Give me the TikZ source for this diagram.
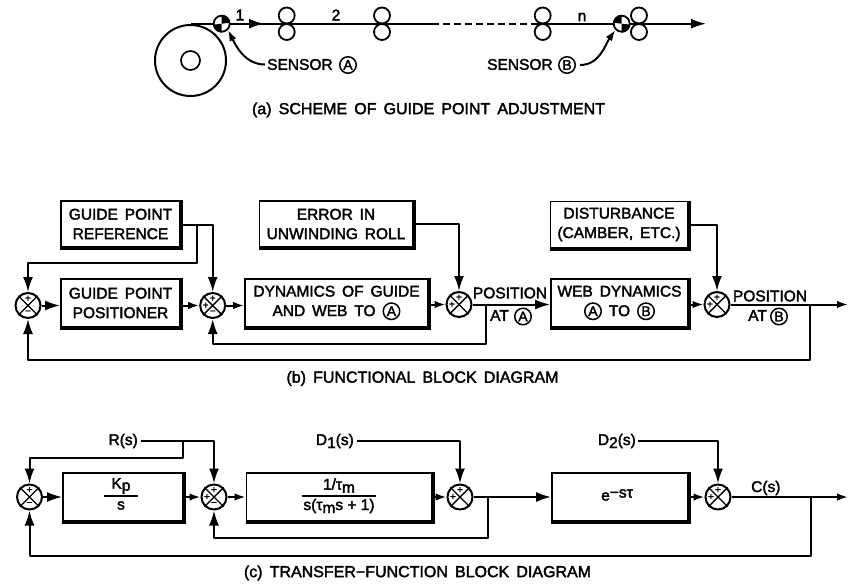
\documentclass[tikz,border=0pt]{standalone}
\usepackage{fontspec}
\setmainfont[FakeBold=2.2]{Liberation Sans}
\newfontfamily\capfont[FakeBold=2.2,WordSpace=1.6]{Liberation Sans}
\usetikzlibrary{arrows.meta,calc}
\tikzset{
  x=1pt,y=-1pt,
  ln/.style={line width=2pt,line join=round},
  arr/.style={ln,-{Latex[length=15pt,width=10pt]}},
  sarr/.style={ln,-{Latex[length=11pt,width=7.5pt]}},
  lab/.style={font=\fontsize{15.5}{17}\selectfont,inner sep=0pt,align=center},
  captext/.style={font=\capfont\fontsize{16}{17}\selectfont,inner sep=0pt},
  blk/.style={draw,line width=1.8pt,inner sep=0pt,align=center,font=\capfont\fontsize{15.5}{19.5}\selectfont,
     append after command={\pgfextra{\draw[line width=3pt] ($(\tikzlastnode.south west)+(0,0.6)$) -- ($(\tikzlastnode.south east)+(0.6,0.6)$) -- ($(\tikzlastnode.north east)+(0.6,0)$);}}},
  sumj/.style={draw,circle,line width=2pt,minimum size=25pt,inner sep=0pt,fill=white},
  sgn/.style={font=\fontsize{10}{10}\selectfont,inner sep=0pt},
  ring/.style={draw,circle,line width=1.5pt,minimum size=16.5pt,inner sep=0pt,font=\fontsize{14}{14}\selectfont},
  roller/.style={draw,circle,line width=1.8pt,minimum size=16pt,inner sep=0pt},
  sensorj/.style={draw,circle,line width=1.8pt,minimum size=16pt,inner sep=0pt,fill=white},
}
\newcommand{\sumx}[4]{% name, x, y, extra signs
  \node[sumj] (#1) at (#2,#3) {};
  \draw[line width=1.4pt] (#1.north west) -- (#1.south east) (#1.north east) -- (#1.south west);
  \node[sgn] at ($(#1)+(0,-7)$) {+};
  #4
}
\newcommand{\Ra}{\tikz[baseline=(r.base)]\node[ring] (r) {A};}
\newcommand{\Rb}{\tikz[baseline=(r.base)]\node[ring] (r) {B};}
\begin{document}
\begin{tikzpicture}
\useasboundingbox (0,0) rectangle (848,584);
% ---------- (a)
\node[draw,circle,line width=2pt,minimum size=71pt,inner sep=0pt] (roll) at (190.5,60.5) {};
\node[draw,circle,line width=1.7pt,minimum size=19pt,inner sep=0pt] (hub) at (190.5,60.5) {};
\coordinate (webstart) at (190.5,23.7);
\coordinate (dash1) at (432,23.7);
\coordinate (dash2) at (535,23.7);
\coordinate (webend) at (706,23.7);
\node[roller] (r1a) at (286.7,15.5) {}; \node[roller] (r1b) at (286.7,32) {};
\node[roller] (r2a) at (382,15.5) {};   \node[roller] (r2b) at (382,32) {};
\node[roller] (r3a) at (542.7,15.5) {}; \node[roller] (r3b) at (542.7,32) {};
\node[roller] (r4a) at (639,15.5) {};   \node[roller] (r4b) at (639,32) {};
\draw[ln] (webstart) -- (dash1);
\draw[ln,dash pattern=on 7pt off 4pt] (dash1) -- (dash2);
\draw[arr] (dash2) -- (webend);
\coordinate (a1) at (248,23.7); \coordinate (a2) at (264,23.7);
\draw[arr] (a1) -- (a2);
\node[sensorj] (sa) at (221.7,23.7) {};
\fill (sa.center) -- (sa.north) arc[start angle=90,end angle=0,radius=8pt] -- cycle;
\fill (sa.center) -- (sa.south) arc[start angle=270,end angle=180,radius=8pt] -- cycle;
\node[sensorj] (sb) at (621.7,23.7) {};
\fill (sb.center) -- (sb.north) arc[start angle=90,end angle=180,radius=8pt] -- cycle;
\fill (sb.center) -- (sb.south) arc[start angle=-90,end angle=0,radius=8pt] -- cycle;
\node[lab] at (240,15) {1};
\node[lab] at (336,15) {2};
\node[lab] at (582,17) {n};
\node[lab,anchor=west] (lsa) at (267,64.5) {SENSOR};
\node[ring] (ca) at (348,65) {A};
\node[lab,anchor=west] (lsb) at (487,64.5) {SENSOR};
\node[ring] (cb) at (567,65) {B};
\draw[sarr] ($(lsa.west)+(-2,0)$) .. controls +(-20,0) and +(8,16) .. (sa.south east);
\draw[sarr] ($(cb)+(13,0)$) .. controls +(20,0) and +(-10,14) .. (sb.south west);
\node[captext] at (428.5,110) {(a) SCHEME OF GUIDE POINT ADJUSTMENT};
% ---------- (b)
\node[blk,minimum width=119pt,minimum height=46pt] (ref) at (120.5,224) {GUIDE POINT\\REFERENCE};
\node[blk,minimum width=153pt,minimum height=46pt] (err) at (336,224) {ERROR IN\\UNWINDING ROLL};
\node[blk,minimum width=137pt,minimum height=46pt] (dist) at (619,224.5) {DISTURBANCE\\(CAMBER, ETC.)};
\node[blk,minimum width=119pt,minimum height=48pt] (pos) at (120.5,303) {GUIDE POINT\\POSITIONER};
\node[blk,minimum width=183pt,minimum height=48pt] (dyn) at (336.5,303) {DYNAMICS OF GUIDE\\AND WEB TO \Ra};
\node[blk,minimum width=137pt,minimum height=48pt] (web) at (619.5,303) {WEB DYNAMICS\\\Ra{} TO \Rb};
\sumx{s1}{28}{305.5}{\node[sgn] at ($(s1)+(0,7)$) {−};}
\sumx{s2}{212.7}{305.5}{\node[sgn] at ($(s2)+(-7,0)$) {+};\node[sgn] at ($(s2)+(0,7)$) {−};}
\sumx{s3}{459}{304.5}{\node[sgn] at ($(s3)+(-7,0)$) {+};}
\sumx{s4}{717}{304.5}{\node[sgn] at ($(s4)+(-7,0)$) {+};}
\coordinate (bj1) at (196.7,225);
\coordinate (bk1) at (196.7,263);
\coordinate (bk2) at (28,263);
\draw[arr] (ref.east |- bj1) -| (s2.north);
\draw[arr] (bj1) -- (bk1) -- (bk2) -- (s1.north);
\draw[arr] (err.east) -| (s3.north);
\draw[arr] (dist.east) -| (s4.north);
\draw[arr] (s1.east) -- (s1.east -| pos.west);
\draw[sarr] (s2.west -| pos.east) -- (s2.west);
\draw[sarr] (s2.east) -- (s2.east -| dyn.west);
\draw[sarr] (s3.west -| dyn.east) -- (s3.west);
\draw[arr] (s3.east) -- (s3.east -| web.west);
\draw[sarr] (s4.west -| web.east) -- (s4.west);
\coordinate (bo) at (848,304.5);
\draw[sarr] (s4.east) -- (bo);
\coordinate (bf1) at (486,304.5); \coordinate (bf2) at (486,344);
\draw[arr] (bf1) -- (bf2) -| (s2.south);
\coordinate (bg1) at (810,304.5); \coordinate (bg2) at (810,360);
\draw[arr] (bg1) -- (bg2) -| (s1.south);
\node[lab] at (510,293) {POSITION};
\node[lab,anchor=west] at (490,315.5) {AT};
\node[ring] (ca2) at (523,316.5) {A};
\node[lab] at (770,296) {POSITION};
\node[lab,anchor=west] at (748,315.5) {AT};
\node[ring] (cb2) at (779,316.5) {B};
\node[captext] at (422.5,378.5) {(b) FUNCTIONAL BLOCK DIAGRAM};
% ---------- (c)
\node[blk,minimum width=120pt,minimum height=48pt] (kp) at (123,497) {};
\node[blk,minimum width=185pt,minimum height=48pt] (tm) at (339,497) {};
\node[blk,minimum width=136pt,minimum height=48pt] (de) at (620,497) {};
\node[lab] at (121,486) {K\raisebox{-2pt}{p}};
\node[lab] at (121,505.5) {s};
\draw[line width=1.6pt] (104,496) -- (138,496);
\node[lab] at (339,485.5) {1/τ\raisebox{-3pt}{m}};
\draw[line width=1.6pt] (301.7,496) -- (375.7,496);
\node[lab] at (339,506) {s(τ\raisebox{-3pt}{m}s + 1)};
\node[lab] at (617,495) {e\raisebox{3pt}{−sτ}};
\sumx{t1}{29.5}{497}{\node[sgn] at ($(t1)+(0,7)$) {−};}
\sumx{t2}{214}{497}{\node[sgn] at ($(t2)+(-7,0)$) {+};\node[sgn] at ($(t2)+(0,7)$) {−};}
\sumx{t3}{460}{497}{\node[sgn] at ($(t3)+(-7,0)$) {+};}
\sumx{t4}{718}{497}{\node[sgn] at ($(t4)+(-7,0)$) {+};}
\node[lab,anchor=east] (R) at (138,441) {R(s)};
\node[lab,anchor=east] (D1) at (354,441) {D\raisebox{-3pt}{1}(s)};
\node[lab,anchor=east] (D2) at (636,441) {D\raisebox{-3pt}{2}(s)};
\node[lab,anchor=west] at (751,488) {C(s)};
\coordinate (cj1) at (182.7,441); \coordinate (cj2) at (182.7,457.7); \coordinate (cj3) at (29.5,457.7);
\draw[arr] ($(R.east)+(3,0)$) -| (t2.north);
\draw[arr] (cj1) -- (cj2) -- (cj3) -- (t1.north);
\draw[arr] ($(D1.east)+(3,0)$) -| (t3.north);
\draw[arr] ($(D2.east)+(2,0)$) -| (t4.north);
\draw[arr] (t1.east) -- (t1.east -| kp.west);
\draw[sarr] (t2.west -| kp.east) -- (t2.west);
\draw[sarr] (t2.east) -- (t2.east -| tm.west);
\draw[sarr] (t3.west -| tm.east) -- (t3.west);
\draw[arr] (t3.east) -- (t3.east -| de.west);
\draw[sarr] (t4.west -| de.east) -- (t4.west);
\coordinate (co) at (848,497);
\draw[sarr] (t4.east) -- (co);
\coordinate (cf1) at (487.7,497); \coordinate (cf2) at (487.7,538);
\draw[arr] (cf1) -- (cf2) -| (t2.south);
\coordinate (cg1) at (810.7,497); \coordinate (cg2) at (810.7,555.7);
\draw[arr] (cg1) -- (cg2) -| (t1.south);
\node[captext] at (417.5,573) {(c) TRANSFER−FUNCTION BLOCK DIAGRAM};
\end{tikzpicture}
\end{document}
